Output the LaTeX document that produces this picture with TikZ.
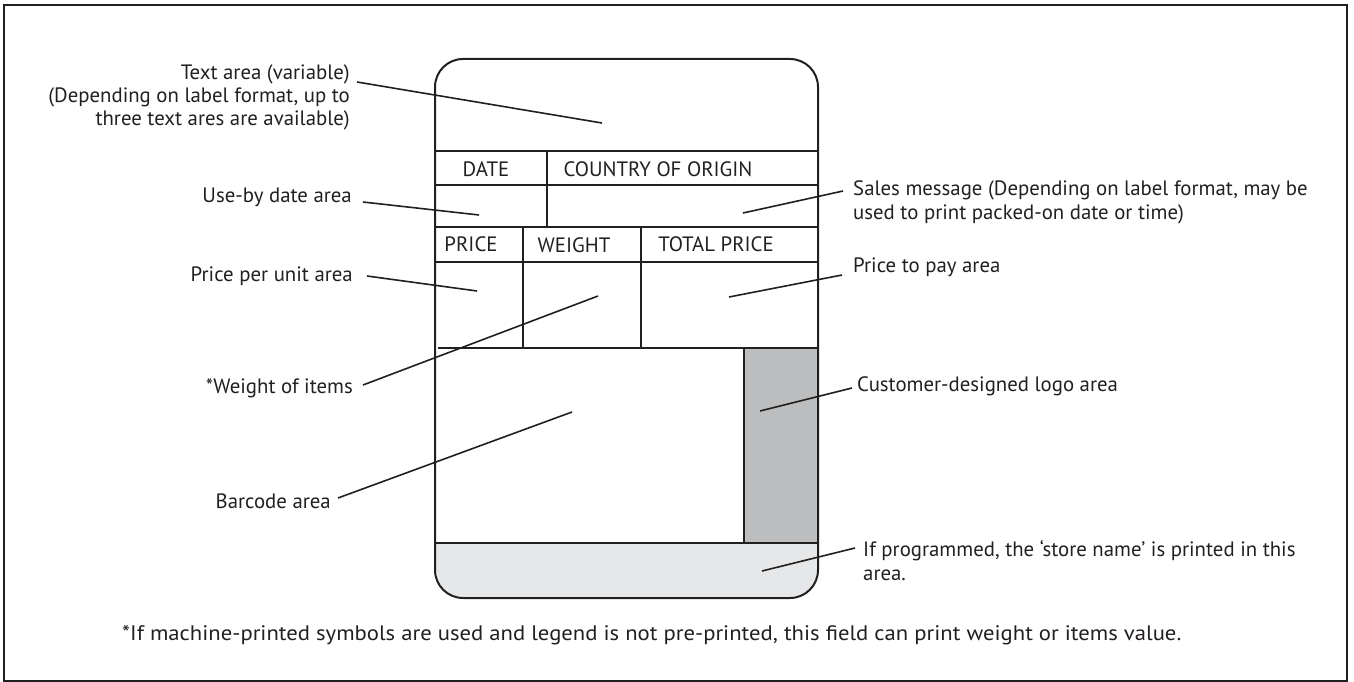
\documentclass[tikz,border=0pt]{standalone}
\usepackage{fontspec}
\setmainfont{PT Sans}
\newfontfamily\notefont{PT Sans}[FakeStretch=1.08]
\definecolor{ink}{HTML}{231F20}
\definecolor{logogray}{HTML}{BCBEC0}
\definecolor{bandgray}{HTML}{E6E7E8}
\begin{document}
\begin{tikzpicture}[x=1pt,y=-1pt,
  outline/.style={line width=2pt, draw=ink},
  rule/.style={line width=1.8pt, draw=ink},
  leader/.style={line width=1.6pt, draw=ink},
  txt/.style={text=ink, font=\fontsize{20.8}{23.5}\selectfont, inner sep=0pt},
  lblL/.style={txt, anchor=base east, align=right},
  lblR/.style={txt, anchor=base west, align=left},
  cell/.style={txt, anchor=base}
]
\useasboundingbox (0,0) rectangle (1354,682);
% outer frame
\draw[line width=2pt, draw=ink] (4,5) rectangle (1347,681);

% shaded areas of the label
\begin{scope}
  \clip[rounded corners=28pt] (435,59) rectangle (818,598);
  \fill[bandgray] (435,543) rectangle (818,598);
  \fill[logogray] (744,348) rectangle (818,543);
\end{scope}

% label outline
\draw[outline, rounded corners=28pt] (435,59) rectangle (818,598);

% grid of fields
\draw[rule] (435,151) -- (818,151);
\draw[rule] (435,185) -- (818,185);
\draw[rule] (547,151) -- (547,227);
\draw[rule] (435,227) -- (818,227);
\draw[rule] (435,262) -- (818,262);
\draw[rule] (523,227) -- (523,348);
\draw[rule] (641,227) -- (641,348);
\draw[rule] (438,348) -- (818,348);
\draw[rule] (744,348) -- (744,543);
\draw[rule] (435,543) -- (818,543);

% field headings
\node[cell] (hdate) at (486,176) {DATE};
\node[cell] (hcountry) at (658,176) {COUNTRY OF ORIGIN};
\node[cell] (hprice) at (471,251) {PRICE};
\node[cell] (hweight) at (574,252) {WEIGHT};
\node[cell] (htotal) at (716,251) {TOTAL PRICE};

% callout texts, left side (multi-line nodes are placed by their last baseline)
\node[lblL] (ltext) at (350,126) {Text area (variable)\\(Depending on label format, up to\\three text ares are available)};
\node[lblL] (luse) at (352,202) {Use-by date area};
\node[lblL] (lunit) at (353,281) {Price per unit area};
\node[lblL] (lweight) at (353,393) {*Weight of items};
\node[lblL] (lbar) at (331,508) {Barcode area};

% callout texts, right side
\node[lblR] (lsales) at (853,219) {Sales message (Depending on label format, may be\\used to print packed-on date or time)};
\node[lblR] (lpay) at (853,272) {Price to pay area};
\node[lblR] (llogo) at (857,391) {Customer-designed logo area};
\node[lblR] (lstore) at (863,580) {If programmed, the ‘store name’ is printed in this\\area.};

% footnote
\node[txt, font=\notefont\fontsize{21}{23.5}\selectfont, anchor=base west] (note) at (122,640) {*If machine-printed symbols are used and legend is not pre-printed, this field can print weight or items value.};

% leader end points
\coordinate (t1) at (357,82);  \coordinate (t2) at (602,123);
\coordinate (u1) at (363,202); \coordinate (u2) at (479,215);
\coordinate (p1) at (367,276); \coordinate (p2) at (477,291);
\coordinate (w1) at (363,385); \coordinate (w2) at (598,296);
\coordinate (b1) at (338,498); \coordinate (b2) at (572,412);
\coordinate (s1) at (843,191); \coordinate (s2) at (743,213);
\coordinate (q1) at (842,275); \coordinate (q2) at (729,297);
\coordinate (g1) at (852,388); \coordinate (g2) at (760,411);
\coordinate (n1) at (855,548); \coordinate (n2) at (762,571);

% leaders
\draw[leader] (t1) -- (t2);
\draw[leader] (u1) -- (u2);
\draw[leader] (p1) -- (p2);
\draw[leader] (w1) -- (w2);
\draw[leader] (b1) -- (b2);
\draw[leader] (s1) -- (s2);
\draw[leader] (q1) -- (q2);
\draw[leader] (g1) -- (g2);
\draw[leader] (n1) -- (n2);
\end{tikzpicture}
\end{document}
